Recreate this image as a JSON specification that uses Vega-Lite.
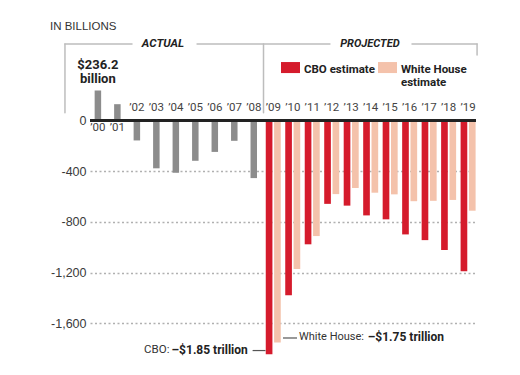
{
  "$schema": "https://vega.github.io/schema/vega-lite/v6.json",
  "width": 386,
  "height": 374,
  "autosize": "none",
  "padding": {"left": 90, "top": 0, "right": 44, "bottom": 1},
  "background": "white",
  "config": {
    "view": {"stroke": null},
    "font": "Roboto, sans-serif",
    "text": {"font": "Roboto, sans-serif"}
  },
  "datasets": {
    "deficit": [
      {"year": 2000, "series": "Actual", "value": 236.2},
      {"year": 2001, "series": "Actual", "value": 128.2},
      {"year": 2002, "series": "Actual", "value": -157.8},
      {"year": 2003, "series": "Actual", "value": -377.6},
      {"year": 2004, "series": "Actual", "value": -412.7},
      {"year": 2005, "series": "Actual", "value": -318.3},
      {"year": 2006, "series": "Actual", "value": -248.2},
      {"year": 2007, "series": "Actual", "value": -160.7},
      {"year": 2008, "series": "Actual", "value": -454.8},
      {"year": 2009, "series": "CBO", "value": -1845},
      {"year": 2010, "series": "CBO", "value": -1379},
      {"year": 2011, "series": "CBO", "value": -977},
      {"year": 2012, "series": "CBO", "value": -658},
      {"year": 2013, "series": "CBO", "value": -672},
      {"year": 2014, "series": "CBO", "value": -749},
      {"year": 2015, "series": "CBO", "value": -780},
      {"year": 2016, "series": "CBO", "value": -899},
      {"year": 2017, "series": "CBO", "value": -944},
      {"year": 2018, "series": "CBO", "value": -1021},
      {"year": 2019, "series": "CBO", "value": -1189},
      {"year": 2009, "series": "White House", "value": -1752},
      {"year": 2010, "series": "White House", "value": -1171},
      {"year": 2011, "series": "White House", "value": -912},
      {"year": 2012, "series": "White House", "value": -581},
      {"year": 2013, "series": "White House", "value": -533},
      {"year": 2014, "series": "White House", "value": -570},
      {"year": 2015, "series": "White House", "value": -583},
      {"year": 2016, "series": "White House", "value": -637},
      {"year": 2017, "series": "White House", "value": -634},
      {"year": 2018, "series": "White House", "value": -627},
      {"year": 2019, "series": "White House", "value": -712}
    ]
  },
  "layer": [
    {
      "data": {"name": "deficit"},
      "transform": [
        {"calculate": "'\u2019' + substring(toString(datum.year), 2)", "as": "label"}
      ],
      "layer": [
        {
          "transform": [{"filter": "datum.series == 'Actual'"}],
          "mark": {"type": "bar", "width": 6.5, "color": "#8c8c8c"},
          "encoding": {
            "x": {
              "field": "year", "type": "ordinal", "axis": null,
              "scale": {
                "domain": [2000, 2001, 2002, 2003, 2004, 2005, 2006, 2007, 2008, 2009, 2010, 2011, 2012, 2013, 2014, 2015, 2016, 2017, 2018, 2019],
                "paddingInner": 0.23, "paddingOuter": 0.02
              }
            },
            "y": {
              "field": "value", "type": "quantitative",
              "scale": {"domain": [-2000, 950], "nice": false, "zero": false},
              "axis": {
                "values": [0, -400, -800, -1200, -1600],
                "title": null, "domain": false, "ticks": false,
                "labelPadding": 4, "labelFontSize": 12.5,
                "labelFont": "Liberation Sans, Arial, sans-serif",
                "labelColor": "#3a3a3a",
                "gridColor": "#b0b0b0", "gridDash": [2, 2.5], "gridWidth": 1.3,
                "labelExpr": "replace(datum.label, '\u2212', '-')"
              }
            }
          }
        },
        {
          "transform": [{"filter": "datum.series != 'Actual'"}],
          "mark": {"type": "bar"},
          "encoding": {
            "x": {"field": "year", "type": "ordinal"},
            "xOffset": {
              "field": "series", "type": "nominal",
              "scale": {"domain": ["CBO", "White House"], "paddingInner": 0.2, "paddingOuter": 0}
            },
            "y": {"field": "value", "type": "quantitative"},
            "color": {
              "field": "series", "type": "nominal",
              "scale": {"domain": ["CBO", "White House"], "range": ["#d51b2c", "#f4c2ab"]},
              "legend": {
                "title": null, "orient": "none", "legendX": 191, "legendY": 54,
                "direction": "horizontal",
                "symbolType": "M-1,-0.18H1V0.98H-1Z", "symbolSize": 361,
                "symbolStrokeWidth": 0, "symbolOpacity": 1,
                "labelFont": "Roboto, sans-serif", "labelBaseline": "top",
                "labelFontWeight": "bold", "labelFontSize": 11.5, "labelColor": "#222",
                "labelOffset": 4, "columnPadding": 3, "padding": 0, "labelLimit": 200,
                "labelExpr": "datum.label == 'CBO' ? ['CBO estimate', ''] : ['White House', 'estimate']"
              }
            }
          }
        },
        {
          "mark": {"type": "rule", "color": "#222", "strokeWidth": 2},
          "encoding": {"y": {"datum": 0}}
        },
        {
          "transform": [{"filter": "datum.value < 0 && datum.series != 'White House'"}],
          "mark": {"type": "text", "dy": -12.5, "baseline": "middle", "fontSize": 11.5, "color": "#444"},
          "encoding": {
            "x": {"field": "year", "type": "ordinal"},
            "y": {"datum": 0},
            "text": {"field": "label"}
          }
        },
        {
          "transform": [{"filter": "datum.value > 0"}],
          "mark": {"type": "text", "dy": 8, "baseline": "middle", "fontSize": 11.5, "color": "#444"},
          "encoding": {
            "x": {"field": "year", "type": "ordinal"},
            "y": {"datum": 0},
            "text": {"field": "label"}
          }
        },
        {
          "transform": [{"filter": "datum.year == 2000"}],
          "mark": {"type": "text", "text": ["$236.2", "billion"], "dy": -18, "baseline": "bottom", "lineHeight": 14, "fontSize": 13, "fontWeight": "bold", "color": "#222"},
          "encoding": {
            "x": {"field": "year", "type": "ordinal"},
            "y": {"field": "value", "type": "quantitative"}
          }
        }
      ]
    },
    {
      "data": {"values": [{}]},
      "layer": [
        {
          "mark": {"type": "rule", "color": "#bdbdbd", "strokeWidth": 1.5, "strokeCap": "round"},
          "encoding": {
            "x": {"datum": 1998.31, "type": "quantitative", "axis": null, "scale": {"domain": [1999.595, 2019.405], "nice": false, "zero": false}},
            "y": {"datum": 603},
            "y2": {"datum": 60}
          }
        },
        {
          "mark": {"type": "rule", "color": "#bdbdbd", "strokeWidth": 1.5, "strokeCap": "round"},
          "encoding": {"x": {"datum": 1998.31, "type": "quantitative"}, "x2": {"datum": 2001.75}, "y": {"datum": 603}}
        },
        {
          "mark": {"type": "rule", "color": "#bdbdbd", "strokeWidth": 1.5, "strokeCap": "round"},
          "encoding": {"x": {"datum": 2005.09, "type": "quantitative"}, "x2": {"datum": 2011.91}, "y": {"datum": 603}}
        },
        {
          "mark": {"type": "rule", "color": "#bdbdbd", "strokeWidth": 1.5, "strokeCap": "round"},
          "encoding": {"x": {"datum": 2008.5, "type": "quantitative"}, "y": {"datum": 603}, "y2": {"datum": 60}}
        },
        {
          "mark": {"type": "rule", "color": "#bdbdbd", "strokeWidth": 1.5, "strokeCap": "round"},
          "encoding": {"x": {"datum": 2016.12, "type": "quantitative"}, "x2": {"datum": 2019.46}, "y": {"datum": 603}}
        },
        {
          "mark": {"type": "rule", "color": "#bdbdbd", "strokeWidth": 1.5, "strokeCap": "round"},
          "encoding": {"x": {"datum": 2019.46, "type": "quantitative"}, "y": {"datum": 603}, "y2": {"datum": 516}}
        },
        {
          "mark": {"type": "rule", "color": "#555", "strokeWidth": 1.2},
          "encoding": {"x": {"datum": 2007.94, "type": "quantitative"}, "x2": {"datum": 2008.6}, "y": {"datum": -1815}}
        },
        {
          "mark": {"type": "rule", "color": "#555", "strokeWidth": 1.2},
          "encoding": {"x": {"datum": 2009.5, "type": "quantitative"}, "x2": {"datum": 2010.22}, "y": {"datum": -1716}}
        },
        {
          "mark": {"type": "text", "text": "IN BILLIONS", "align": "left", "baseline": "middle", "font": "Liberation Sans, Arial, sans-serif", "fontSize": 11.5, "color": "#333"},
          "encoding": {"x": {"datum": 1997.54, "type": "quantitative"}, "y": {"datum": 737}}
        },
        {
          "mark": {"type": "text", "text": "ACTUAL", "align": "center", "baseline": "middle", "fontSize": 11.5, "fontWeight": "bold", "fontStyle": "italic", "color": "#222"},
          "encoding": {"x": {"datum": 2003.34, "type": "quantitative"}, "y": {"datum": 603}}
        },
        {
          "mark": {"type": "text", "text": "PROJECTED", "align": "center", "baseline": "middle", "fontSize": 11, "fontWeight": "bold", "fontStyle": "italic", "color": "#222"},
          "encoding": {"x": {"datum": 2013.96, "type": "quantitative"}, "y": {"datum": 603}}
        },
        {
          "mark": {"type": "text", "text": "CBO:", "align": "left", "baseline": "middle", "fontSize": 11.5, "color": "#333"},
          "encoding": {"x": {"datum": 2002.37, "type": "quantitative"}, "y": {"datum": -1811}}
        },
        {
          "mark": {"type": "text", "text": "\u2013$1.85 trillion", "align": "left", "baseline": "middle", "fontSize": 12, "fontWeight": "bold", "color": "#222"},
          "encoding": {"x": {"datum": 2003.78, "type": "quantitative"}, "y": {"datum": -1811}}
        },
        {
          "mark": {"type": "text", "text": "White House:", "align": "left", "baseline": "middle", "fontSize": 11, "color": "#333"},
          "encoding": {"x": {"datum": 2010.32, "type": "quantitative"}, "y": {"datum": -1712}}
        },
        {
          "mark": {"type": "text", "text": "\u2013$1.75 trillion", "align": "left", "baseline": "middle", "fontSize": 12, "fontWeight": "bold", "color": "#222"},
          "encoding": {"x": {"datum": 2013.85, "type": "quantitative"}, "y": {"datum": -1712}}
        }
      ]
    }
  ],
  "resolve": {"scale": {"x": "independent"}}
}
